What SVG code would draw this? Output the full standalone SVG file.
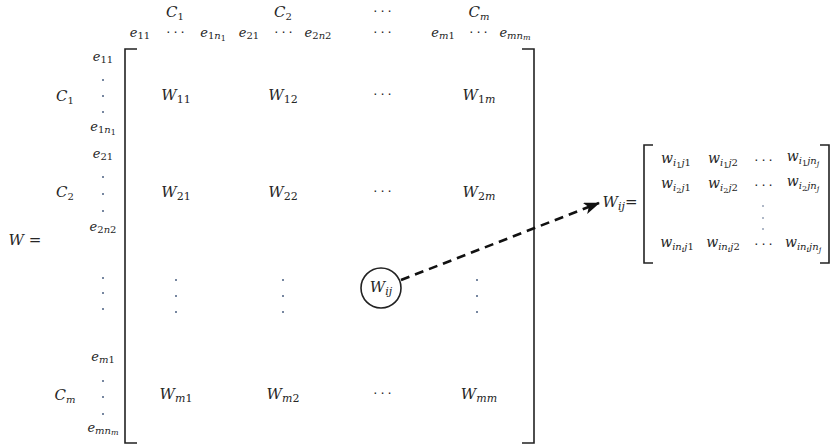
<svg xmlns="http://www.w3.org/2000/svg" width="833" height="448" viewBox="0 0 833 448">
<style>
text{font-family:"DejaVu Serif","Liberation Serif",serif;font-style:italic;fill:#262626;text-anchor:middle}
.b{font-size:15px}
.e{font-size:13px}
.w{font-size:14px}
.u{font-style:normal}
.dt{font-family:"DejaVu Sans",sans-serif;font-style:normal;font-size:13px;letter-spacing:3px}
.br{fill:none;stroke:#222;stroke-width:1.6}
.vd{fill:#4a5f80}
.conn{fill:none;stroke:#111;stroke-width:2.6;stroke-dasharray:9 6}
</style>
<defs>
<marker id="ah" markerWidth="16" markerHeight="12" refX="15" refY="6" orient="auto" markerUnits="userSpaceOnUse">
<path d="M0,0 L16,6 L0,12 L4,6 Z" fill="#111"/>
</marker>
</defs>

<g id="big-matrix">
<path class="br" d="M137,49 H125 V443 H137"/>
<path class="br" d="M522,49 H534 V443 H522"/>

<!-- header row 1 -->
<text class="b" x="175" y="17">C<tspan class="u" font-size="10" dy="3">1</tspan></text>
<text class="b" x="283" y="17">C<tspan class="u" font-size="10" dy="3">2</tspan></text>
<text class="dt" x="384" y="16">···</text>
<text class="b" x="479" y="17">C<tspan font-size="10" dy="3">m</tspan></text>

<!-- header row 2 -->
<text class="e" x="140" y="37">e<tspan class="u" font-size="10" dy="2">11</tspan></text>
<text class="dt" x="177" y="37">···</text>
<text class="e" x="213" y="37">e<tspan class="u" font-size="10" dy="2">1</tspan><tspan font-size="10">n</tspan><tspan class="u" font-size="8" dy="2">1</tspan></text>
<text class="e" x="249" y="37">e<tspan class="u" font-size="10" dy="2">21</tspan></text>
<text class="dt" x="285" y="37">···</text>
<text class="e" x="318" y="37">e<tspan class="u" font-size="10" dy="2">2</tspan><tspan font-size="10">n</tspan><tspan class="u" font-size="10">2</tspan></text>
<text class="dt" x="384" y="37">···</text>
<text class="e" x="443" y="37">e<tspan font-size="10" dy="2">m</tspan><tspan class="u" font-size="10">1</tspan></text>
<text class="dt" x="480" y="37">···</text>
<text class="e" x="515" y="37">e<tspan font-size="10" dy="2">mn</tspan><tspan font-size="8" dy="1">m</tspan></text>

<!-- left labels -->
<text class="b" x="25" y="245">W =</text>
<text class="b" x="65" y="101">C<tspan class="u" font-size="10" dy="3">1</tspan></text>
<text class="b" x="65" y="197">C<tspan class="u" font-size="10" dy="3">2</tspan></text>
<text class="b" x="65" y="400">C<tspan font-size="10" dy="3">m</tspan></text>

<text class="e" x="103" y="61">e<tspan class="u" font-size="10" dy="2">11</tspan></text>
<circle class="vd" cx="103" cy="80" r="1"/><circle class="vd" cx="103" cy="96" r="1"/><circle class="vd" cx="103" cy="112" r="1"/>
<text class="e" x="103" y="131">e<tspan class="u" font-size="10" dy="2">1</tspan><tspan font-size="10">n</tspan><tspan class="u" font-size="8" dy="2">1</tspan></text>
<text class="e" x="103" y="158">e<tspan class="u" font-size="10" dy="2">21</tspan></text>
<circle class="vd" cx="103" cy="177" r="1"/><circle class="vd" cx="103" cy="194" r="1"/><circle class="vd" cx="103" cy="211" r="1"/>
<text class="e" x="103" y="231">e<tspan class="u" font-size="10" dy="2">2</tspan><tspan font-size="10">n</tspan><tspan class="u" font-size="10">2</tspan></text>
<circle class="vd" cx="103" cy="278" r="1"/><circle class="vd" cx="103" cy="293" r="1"/><circle class="vd" cx="103" cy="309" r="1"/>
<text class="e" x="103" y="361">e<tspan font-size="10" dy="2">m</tspan><tspan class="u" font-size="10">1</tspan></text>
<circle class="vd" cx="103" cy="381" r="1"/><circle class="vd" cx="103" cy="397" r="1"/><circle class="vd" cx="103" cy="414" r="1"/>
<text class="e" x="103" y="432">e<tspan font-size="10" dy="2">mn</tspan><tspan font-size="8" dy="1">m</tspan></text>

<!-- entries -->
<text class="b" x="176" y="100">W<tspan class="u" font-size="11" dy="3">11</tspan></text>
<text class="b" x="283" y="100">W<tspan class="u" font-size="11" dy="3">12</tspan></text>
<text class="dt" x="384" y="99">···</text>
<text class="b" x="479" y="100">W<tspan class="u" font-size="11" dy="3">1</tspan><tspan font-size="11">m</tspan></text>

<text class="b" x="176" y="197">W<tspan class="u" font-size="11" dy="3">21</tspan></text>
<text class="b" x="283" y="197">W<tspan class="u" font-size="11" dy="3">22</tspan></text>
<text class="dt" x="384" y="196">···</text>
<text class="b" x="479" y="197">W<tspan class="u" font-size="11" dy="3">2</tspan><tspan font-size="11">m</tspan></text>

<circle class="vd" cx="176" cy="280" r="1"/><circle class="vd" cx="176" cy="296" r="1"/><circle class="vd" cx="176" cy="312" r="1"/>
<circle class="vd" cx="283" cy="280" r="1"/><circle class="vd" cx="283" cy="296" r="1"/><circle class="vd" cx="283" cy="312" r="1"/>
<circle class="vd" cx="477" cy="280" r="1"/><circle class="vd" cx="477" cy="296" r="1"/><circle class="vd" cx="477" cy="312" r="1"/>

<text class="b" x="176" y="399">W<tspan font-size="11" dy="3">m</tspan><tspan class="u" font-size="11">1</tspan></text>
<text class="b" x="283" y="399">W<tspan font-size="11" dy="3">m</tspan><tspan class="u" font-size="11">2</tspan></text>
<text class="dt" x="384" y="398">···</text>
<text class="b" x="479" y="399">W<tspan font-size="11" dy="3">mm</tspan></text>
</g>

<g id="node-wij">
<circle cx="381" cy="288" r="20" fill="#fff" stroke="#222" stroke-width="1.6"/>
<text class="b" x="381" y="292">W<tspan font-size="11" dy="3">ij</tspan></text>
</g>

<g id="connectors">
<line class="conn" x1="401" y1="280" x2="599" y2="203" marker-end="url(#ah)"/>
</g>

<g id="small-matrix">
<text class="b" x="620" y="207">W<tspan font-size="11" dy="3">ij</tspan><tspan class="u" dy="-3">=</tspan></text>
<path class="br" d="M653,145 H644 V263 H653"/>
<path class="br" d="M820,145 H829 V263 H820"/>

<text class="w" x="676" y="163">w<tspan font-size="10" dy="3">i</tspan><tspan class="u" font-size="8" dy="2">1</tspan><tspan font-size="10" dy="-2">j</tspan><tspan class="u" font-size="10">1</tspan></text>
<text class="w" x="723" y="163">w<tspan font-size="10" dy="3">i</tspan><tspan class="u" font-size="8" dy="2">1</tspan><tspan font-size="10" dy="-2">j</tspan><tspan class="u" font-size="10">2</tspan></text>
<text class="dt" x="765" y="165">···</text>
<text class="w" x="803" y="161">w<tspan font-size="10" dy="3">i</tspan><tspan class="u" font-size="8" dy="2">1</tspan><tspan font-size="10" dy="-2">jn</tspan><tspan font-size="8" dy="2">j</tspan></text>

<text class="w" x="676" y="188">w<tspan font-size="10" dy="3">i</tspan><tspan class="u" font-size="8" dy="2">2</tspan><tspan font-size="10" dy="-2">j</tspan><tspan class="u" font-size="10">1</tspan></text>
<text class="w" x="723" y="188">w<tspan font-size="10" dy="3">i</tspan><tspan class="u" font-size="8" dy="2">2</tspan><tspan font-size="10" dy="-2">j</tspan><tspan class="u" font-size="10">2</tspan></text>
<text class="dt" x="765" y="190">···</text>
<text class="w" x="803" y="186">w<tspan font-size="10" dy="3">i</tspan><tspan class="u" font-size="8" dy="2">2</tspan><tspan font-size="10" dy="-2">jn</tspan><tspan font-size="8" dy="2">j</tspan></text>

<circle class="vd" cx="763" cy="206" r="0.8"/><circle class="vd" cx="763" cy="218" r="0.8"/><circle class="vd" cx="763" cy="229" r="0.8"/>

<text class="w" x="677" y="247">w<tspan font-size="10" dy="3">in</tspan><tspan font-size="8" dy="2">i</tspan><tspan font-size="10" dy="-2">j</tspan><tspan class="u" font-size="10">1</tspan></text>
<text class="w" x="723" y="247">w<tspan font-size="10" dy="3">in</tspan><tspan font-size="8" dy="2">i</tspan><tspan font-size="10" dy="-2">j</tspan><tspan class="u" font-size="10">2</tspan></text>
<text class="dt" x="765" y="249">···</text>
<text class="w" x="803" y="247">w<tspan font-size="10" dy="3">in</tspan><tspan font-size="8" dy="2">i</tspan><tspan font-size="10" dy="-2">jn</tspan><tspan font-size="8" dy="2">j</tspan></text>
</g>
</svg>
